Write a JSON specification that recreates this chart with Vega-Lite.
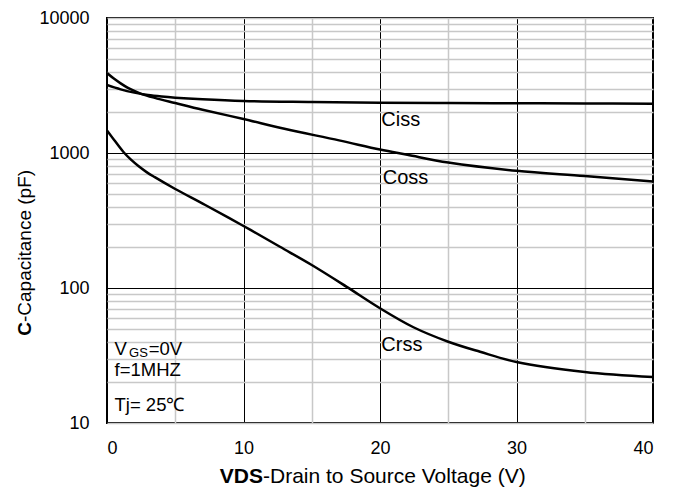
{
  "$schema": "https://vega.github.io/schema/vega-lite/v6.json",
  "width": 546,
  "height": 405,
  "autosize": {"type": "none"},
  "padding": {"left": 107, "top": 18, "right": 27, "bottom": 71},
  "background": "white",
  "config": {
    "view": {"stroke": "black", "strokeWidth": 2},
    "font": "Liberation Sans",
    "axis": {"domain": false, "ticks": false, "labelFont": "Liberation Sans", "labelColor": "black", "labelFontSize": 18}
  },
  "datasets": {
    "curves": [
      {"series": "Ciss", "v": 0, "c": 3190},
      {"series": "Ciss", "v": 1, "c": 2960},
      {"series": "Ciss", "v": 2, "c": 2800},
      {"series": "Ciss", "v": 3, "c": 2690},
      {"series": "Ciss", "v": 4, "c": 2620},
      {"series": "Ciss", "v": 5, "c": 2570},
      {"series": "Ciss", "v": 7, "c": 2500},
      {"series": "Ciss", "v": 10, "c": 2430},
      {"series": "Ciss", "v": 15, "c": 2390},
      {"series": "Ciss", "v": 20, "c": 2360},
      {"series": "Ciss", "v": 25, "c": 2345},
      {"series": "Ciss", "v": 30, "c": 2335},
      {"series": "Ciss", "v": 35, "c": 2325},
      {"series": "Ciss", "v": 40, "c": 2320},
      {"series": "Coss", "v": 0, "c": 3910},
      {"series": "Coss", "v": 0.5, "c": 3560},
      {"series": "Coss", "v": 1, "c": 3280},
      {"series": "Coss", "v": 1.5, "c": 3050},
      {"series": "Coss", "v": 2, "c": 2880},
      {"series": "Coss", "v": 2.6, "c": 2720},
      {"series": "Coss", "v": 3.5, "c": 2560},
      {"series": "Coss", "v": 5, "c": 2345},
      {"series": "Coss", "v": 7, "c": 2090},
      {"series": "Coss", "v": 10, "c": 1785},
      {"series": "Coss", "v": 13, "c": 1510},
      {"series": "Coss", "v": 17, "c": 1240},
      {"series": "Coss", "v": 20, "c": 1060},
      {"series": "Coss", "v": 22, "c": 970},
      {"series": "Coss", "v": 25, "c": 850},
      {"series": "Coss", "v": 30, "c": 738},
      {"series": "Coss", "v": 35, "c": 676},
      {"series": "Coss", "v": 40, "c": 615},
      {"series": "Crss", "v": 0, "c": 1470},
      {"series": "Crss", "v": 0.6, "c": 1220},
      {"series": "Crss", "v": 1.27, "c": 1000},
      {"series": "Crss", "v": 1.8, "c": 885},
      {"series": "Crss", "v": 2.3, "c": 800},
      {"series": "Crss", "v": 2.9, "c": 722},
      {"series": "Crss", "v": 3.5, "c": 662},
      {"series": "Crss", "v": 5, "c": 541},
      {"series": "Crss", "v": 7.2, "c": 412},
      {"series": "Crss", "v": 10, "c": 288},
      {"series": "Crss", "v": 12.67, "c": 202},
      {"series": "Crss", "v": 15, "c": 148},
      {"series": "Crss", "v": 17.56, "c": 102},
      {"series": "Crss", "v": 20, "c": 70.8},
      {"series": "Crss", "v": 22.45, "c": 51.2},
      {"series": "Crss", "v": 25, "c": 40},
      {"series": "Crss", "v": 27.33, "c": 33.7},
      {"series": "Crss", "v": 30, "c": 28.3},
      {"series": "Crss", "v": 35, "c": 23.9},
      {"series": "Crss", "v": 40, "c": 21.9}
    ],
    "curveLabels": [
      {"label": "Ciss", "v": 20.1, "c": 1770},
      {"label": "Coss", "v": 20.2, "c": 653},
      {"label": "Crss", "v": 20.1, "c": 37.8}
    ],
    "notes": [
      {"label": "V", "v": 0.55, "c": 35.3},
      {"label": "=0V", "v": 3.05, "c": 35.3},
      {"label": "f=1MHZ", "v": 0.55, "c": 24.7},
      {"label": "Tj= 25℃", "v": 0.55, "c": 13.6}
    ],
    "subs": [
      {"label": "GS", "v": 1.62, "c": 33.2}
    ],
    "xTitleBold": [{"label": "VDS", "v": 11.43, "c": 3.95}],
    "xTitleNormal": [{"label": "-Drain to Source Voltage (V)", "v": 11.43, "c": 3.95}],
    "yTitleBold": [{"label": "C", "v": -6.0, "c": 56}],
    "yTitleNormal": [{"label": "-Capacitance (pF)", "v": -6.0, "c": 56}]
  },
  "encoding": {
    "x": {
      "field": "v", "type": "quantitative",
      "scale": {"domain": [0, 40], "nice": false, "zero": false},
      "axis": {
        "title": null,
        "values": [0, 5, 10, 15, 20, 25, 30, 35, 40],
        "labelExpr": "datum.value % 10 === 0 ? datum.label : ''",
        "labelPadding": 16,
        "grid": true,
        "gridColor": {"condition": {"test": "datum.value % 10 === 0", "value": "black"}, "value": "#c8c8c8"},
        "gridWidth": {"condition": {"test": "datum.value % 10 === 0", "value": 1}, "value": 1.5}
      }
    },
    "y": {
      "field": "c", "type": "quantitative",
      "scale": {"type": "log", "domain": [10, 10000], "nice": false},
      "axis": {
        "title": null,
        "format": "d",
        "values": [10, 20, 30, 40, 50, 60, 70, 80, 90, 100, 200, 300, 400, 500, 600, 700, 800, 900, 1000, 2000, 3000, 4000, 5000, 6000, 7000, 8000, 9000, 10000],
        "labelExpr": "(datum.value === 10 || datum.value === 100 || datum.value === 1000 || datum.value === 10000) ? datum.label : ''",
        "labelPadding": 18,
        "grid": true,
        "gridColor": {"condition": {"test": "datum.value === 100 || datum.value === 1000", "value": "black"}, "value": "#c8c8c8"},
        "gridWidth": {"condition": {"test": "datum.value === 100 || datum.value === 1000", "value": 1}, "value": 1.5}
      }
    }
  },
  "layer": [
    {
      "data": {"name": "curves"},
      "mark": {"type": "line", "color": "black", "strokeWidth": 2.5, "interpolate": "catmull-rom", "clip": true},
      "encoding": {"detail": {"field": "series"}}
    },
    {
      "data": {"name": "curveLabels"},
      "mark": {"type": "text", "align": "left", "baseline": "middle", "fontSize": 20, "color": "black"},
      "encoding": {"text": {"field": "label"}}
    },
    {
      "data": {"name": "notes"},
      "mark": {"type": "text", "align": "left", "baseline": "middle", "fontSize": 18.5, "color": "black"},
      "encoding": {"text": {"field": "label"}}
    },
    {
      "data": {"name": "subs"},
      "mark": {"type": "text", "align": "left", "baseline": "middle", "fontSize": 13, "color": "black"},
      "encoding": {"text": {"field": "label"}}
    },
    {
      "data": {"name": "xTitleBold"},
      "mark": {"type": "text", "align": "right", "baseline": "middle", "fontSize": 21, "fontWeight": "bold", "color": "black"},
      "encoding": {"text": {"field": "label"}}
    },
    {
      "data": {"name": "xTitleNormal"},
      "mark": {"type": "text", "align": "left", "baseline": "middle", "fontSize": 21, "color": "black"},
      "encoding": {"text": {"field": "label"}}
    },
    {
      "data": {"name": "yTitleBold"},
      "mark": {"type": "text", "align": "right", "baseline": "middle", "fontSize": 19, "fontWeight": "bold", "color": "black", "angle": 270},
      "encoding": {"text": {"field": "label"}}
    },
    {
      "data": {"name": "yTitleNormal"},
      "mark": {"type": "text", "align": "left", "baseline": "middle", "fontSize": 19, "color": "black", "angle": 270},
      "encoding": {"text": {"field": "label"}}
    }
  ]
}
